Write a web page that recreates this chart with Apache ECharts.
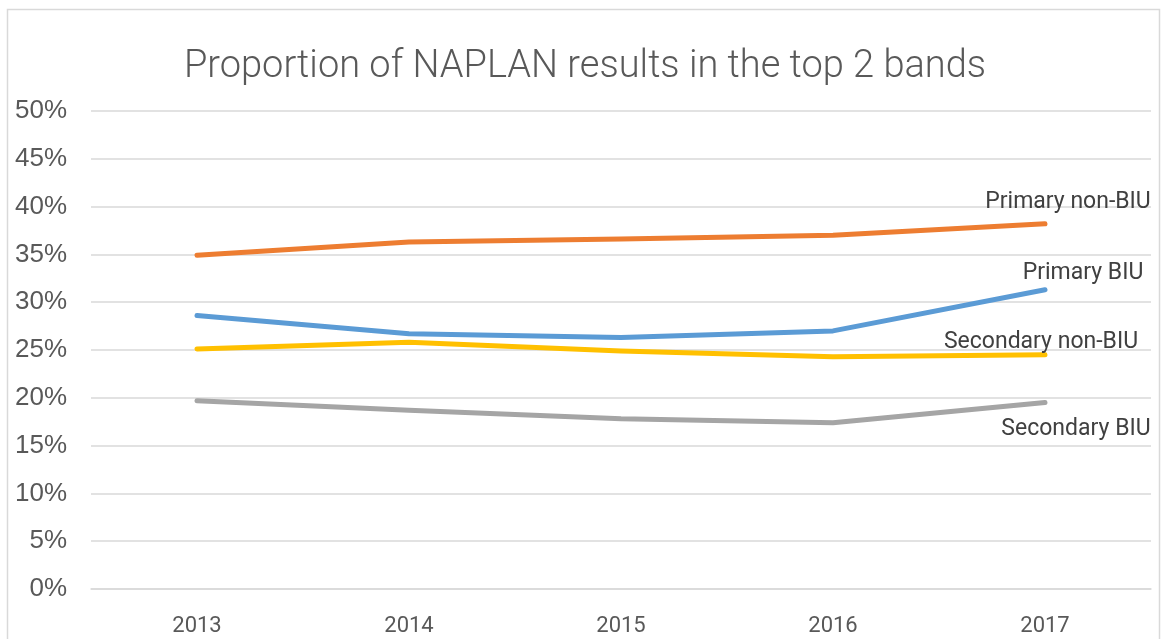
<!DOCTYPE html>
<html>
<head>
<meta charset="utf-8">
<script src="https://cdn.jsdelivr.net/npm/echarts@6/dist/echarts.min.js"></script>
<style>
html,body{margin:0;padding:0;background:#fff;}
#c{width:1170px;height:639px;}
</style>
</head>
<body>
<div id="c"></div>
<script>
var years = ['2013', '2014', '2015', '2016', '2017'];
var primaryNonBIU = [0.349, 0.363, 0.366, 0.370, 0.382];
var primaryBIU = [0.286, 0.267, 0.263, 0.270, 0.313];
var secondaryNonBIU = [0.251, 0.258, 0.249, 0.243, 0.245];
var secondaryBIU = [0.197, 0.187, 0.178, 0.174, 0.195];
var yTicks = [0, 0.05, 0.10, 0.15, 0.20, 0.25, 0.30, 0.35, 0.40, 0.45, 0.50];

var chart = echarts.init(document.getElementById('c'), null, {renderer: 'canvas'});
function mk(name, data, color, off) {
  return {
    name: name, type: 'line', data: data, showSymbol: false, symbol: 'none',
    lineStyle: {color: color, width: 5, cap: 'round', join: 'round'},
    itemStyle: {color: color},
    endLabel: {
      show: true, formatter: '{a}', distance: 0, align: 'center', verticalAlign: 'middle',
      offset: off, color: '#404040', fontSize: 23, fontFamily: 'Roboto'
    },
    emphasis: {disabled: true},
    animation: false
  };
}
chart.setOption({
  animation: false,
  backgroundColor: '#ffffff',
  title: {
    text: 'Proportion of NAPLAN results in the top 2 bands',
    left: 'center', top: 43,
    textStyle: {color: '#595959', fontSize: 38, fontWeight: 300, fontFamily: 'Roboto'}
  },
  graphic: [{
    type: 'rect', shape: {x: 7.5, y: 9.5, width: 1152, height: 660},
    style: {fill: 'none', stroke: '#d9d9d9', lineWidth: 1.5}, silent: true
  }],
  grid: {left: 91, right: 19, top: 111, bottom: 50, containLabel: false},
  xAxis: {
    type: 'category', data: years, boundaryGap: true,
    axisLine: {show: true, lineStyle: {color: '#d9d9d9', width: 1.5}},
    axisTick: {show: false},
    axisLabel: {color: '#595959', fontSize: 22, fontFamily: 'Roboto', margin: 26}
  },
  yAxis: {
    type: 'value', min: 0, max: 0.5, interval: 0.05,
    axisLine: {show: false}, axisTick: {show: false},
    splitLine: {lineStyle: {color: '#d9d9d9', width: 1.5}},
    axisLabel: {
      color: '#595959', fontSize: 26, fontFamily: 'Liberation Sans', margin: 24,
      padding: [4, 0, 0, 0],
      formatter: function (v) { return Math.round(v * 100) + '%'; }
    }
  },
  series: [
    mk('Primary non-BIU', primaryNonBIU, '#ED7D31', [23, -22]),
    mk('Primary BIU', primaryBIU, '#5B9BD5', [38, -17]),
    mk('Secondary non-BIU', secondaryNonBIU, '#FFC000', [-4, -13]),
    mk('Secondary BIU', secondaryBIU, '#A5A5A5', [31, 27])
  ]
});
</script>
</body>
</html>
